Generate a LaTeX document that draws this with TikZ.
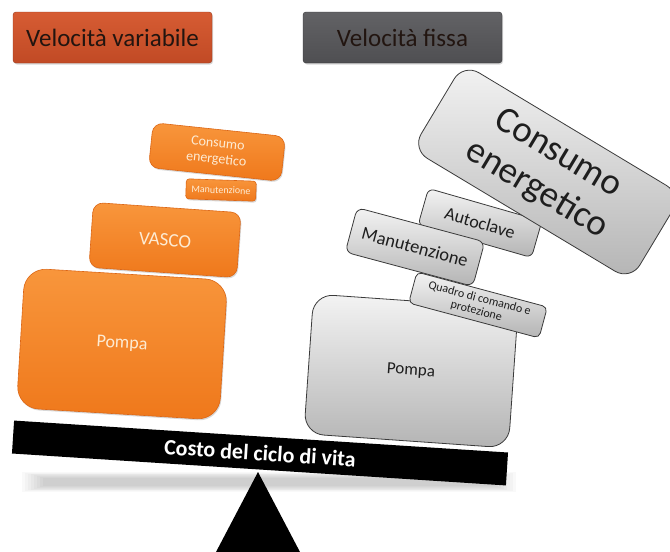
\documentclass[tikz,border=0pt]{standalone}
\usepackage{fontspec}
\setmainfont{Carlito}
\usetikzlibrary{shadows}

\definecolor{rossoTop}{HTML}{D65C33}
\definecolor{rossoBot}{HTML}{C14A25}
\definecolor{grigioTTop}{HTML}{626265}
\definecolor{grigioTBot}{HTML}{4F4F52}
\definecolor{testoT}{HTML}{221510}
\definecolor{aranTop}{HTML}{F8963C}
\definecolor{aranBot}{HTML}{EF781B}
\definecolor{bordoA}{HTML}{DC6614}
\definecolor{crema}{HTML}{FDEBD3}
\definecolor{grigioTop}{HTML}{F3F3F3}
\definecolor{grigioBot}{HTML}{B4B4B4}
\definecolor{bordoG}{HTML}{3A3A3A}
\definecolor{testoG}{HTML}{1E1E1E}

\tikzset{
  titolo/.style={rounded corners=3pt, minimum width=199pt, minimum height=51pt, inner sep=0pt,
    text=testoT, font=\fontsize{25}{28}\selectfont,
    drop shadow={shadow xshift=1pt, shadow yshift=-1.5pt, opacity=0.3}},
  arancio/.style={rounded corners=#1, draw=bordoA, line width=0.6pt, top color=aranTop, bottom color=aranBot,
    text=crema, align=center, inner sep=0pt,
    drop shadow={shadow xshift=1pt, shadow yshift=-1.5pt, opacity=0.3}},
  grigio/.style={rounded corners=#1, draw=bordoG, line width=0.8pt, top color=grigioTop, bottom color=grigioBot,
    text=testoG, align=center, inner sep=0pt}
}

\begin{document}
\begin{tikzpicture}[x=1pt, y=-1pt]
\useasboundingbox[fill=white] (0,0) rectangle (670,552);

% titoli
\node[titolo, top color=rossoTop, bottom color=rossoBot, draw=rossoBot!80!black] (velVar) at (112.5,37.5) {Velocità variabile};
\node[titolo, top color=grigioTTop, bottom color=grigioTBot, draw=grigioTBot!70!black] (velFix) at (402.5,37.5) {Velocità fissa};

% ombra e fulcro
\foreach \i in {0,...,7}
  \fill[black, opacity=0.025] (22+3*\i, 472+0.8*\i) rectangle (516-3*\i, 492-0.8*\i);
\fill[black] (258,472) -- (300,552) -- (216,552) -- cycle;

% trave
\node[fill=black, minimum width=495pt, minimum height=33pt, inner sep=0pt, rotate=-3.7,
  text=white, font=\bfseries\fontsize{22}{24}\selectfont] (trave) at (260,453) {Costo del ciclo di vita};

% velocita variabile
\node[arancio=22pt, minimum width=203pt, minimum height=140pt, rotate=-3.5, font=\fontsize{18}{20}\selectfont] (pompaV) at (122,344) {Pompa};
\node[arancio=10pt, minimum width=148pt, minimum height=65pt, rotate=-4, font=\fontsize{19}{21}\selectfont] (vascoV) at (165,240) {VASCO};
\node[arancio=3pt, minimum width=70pt, minimum height=20pt, rotate=-2, font=\fontsize{10}{11}\selectfont] (manutV) at (221,190) {Manutenzione};
\node[arancio=10pt, minimum width=133pt, minimum height=45pt, rotate=-6, font=\fontsize{14}{16}\selectfont] (consumoV) at (217,152) {Consumo\\energetico};

% velocita fissa
\node[grigio=20pt, minimum width=205pt, minimum height=140pt, rotate=-4, font=\fontsize{17}{19}\selectfont] (pompaF) at (411,371) {Pompa};
\node[grigio=5pt, minimum width=135pt, minimum height=32pt, rotate=-15, font=\fontsize{12}{13}\selectfont] (quadroF) at (478,305) {Quadro di comando e\\protezione};
\node[grigio=6pt, minimum width=118pt, minimum height=38pt, rotate=-16, font=\fontsize{18}{20}\selectfont] (autoclaveF) at (480,223) {Autoclave};
\node[grigio=7pt, minimum width=132pt, minimum height=46pt, rotate=-15, font=\fontsize{18.5}{20}\selectfont] (manutF) at (415,247) {Manutenzione};
\node[grigio=18pt, minimum width=255pt, minimum height=100pt, rotate=-31, font=\fontsize{37}{42}\selectfont] (consumoF) at (547,172) {Consumo\\energetico};
\end{tikzpicture}
\end{document}
